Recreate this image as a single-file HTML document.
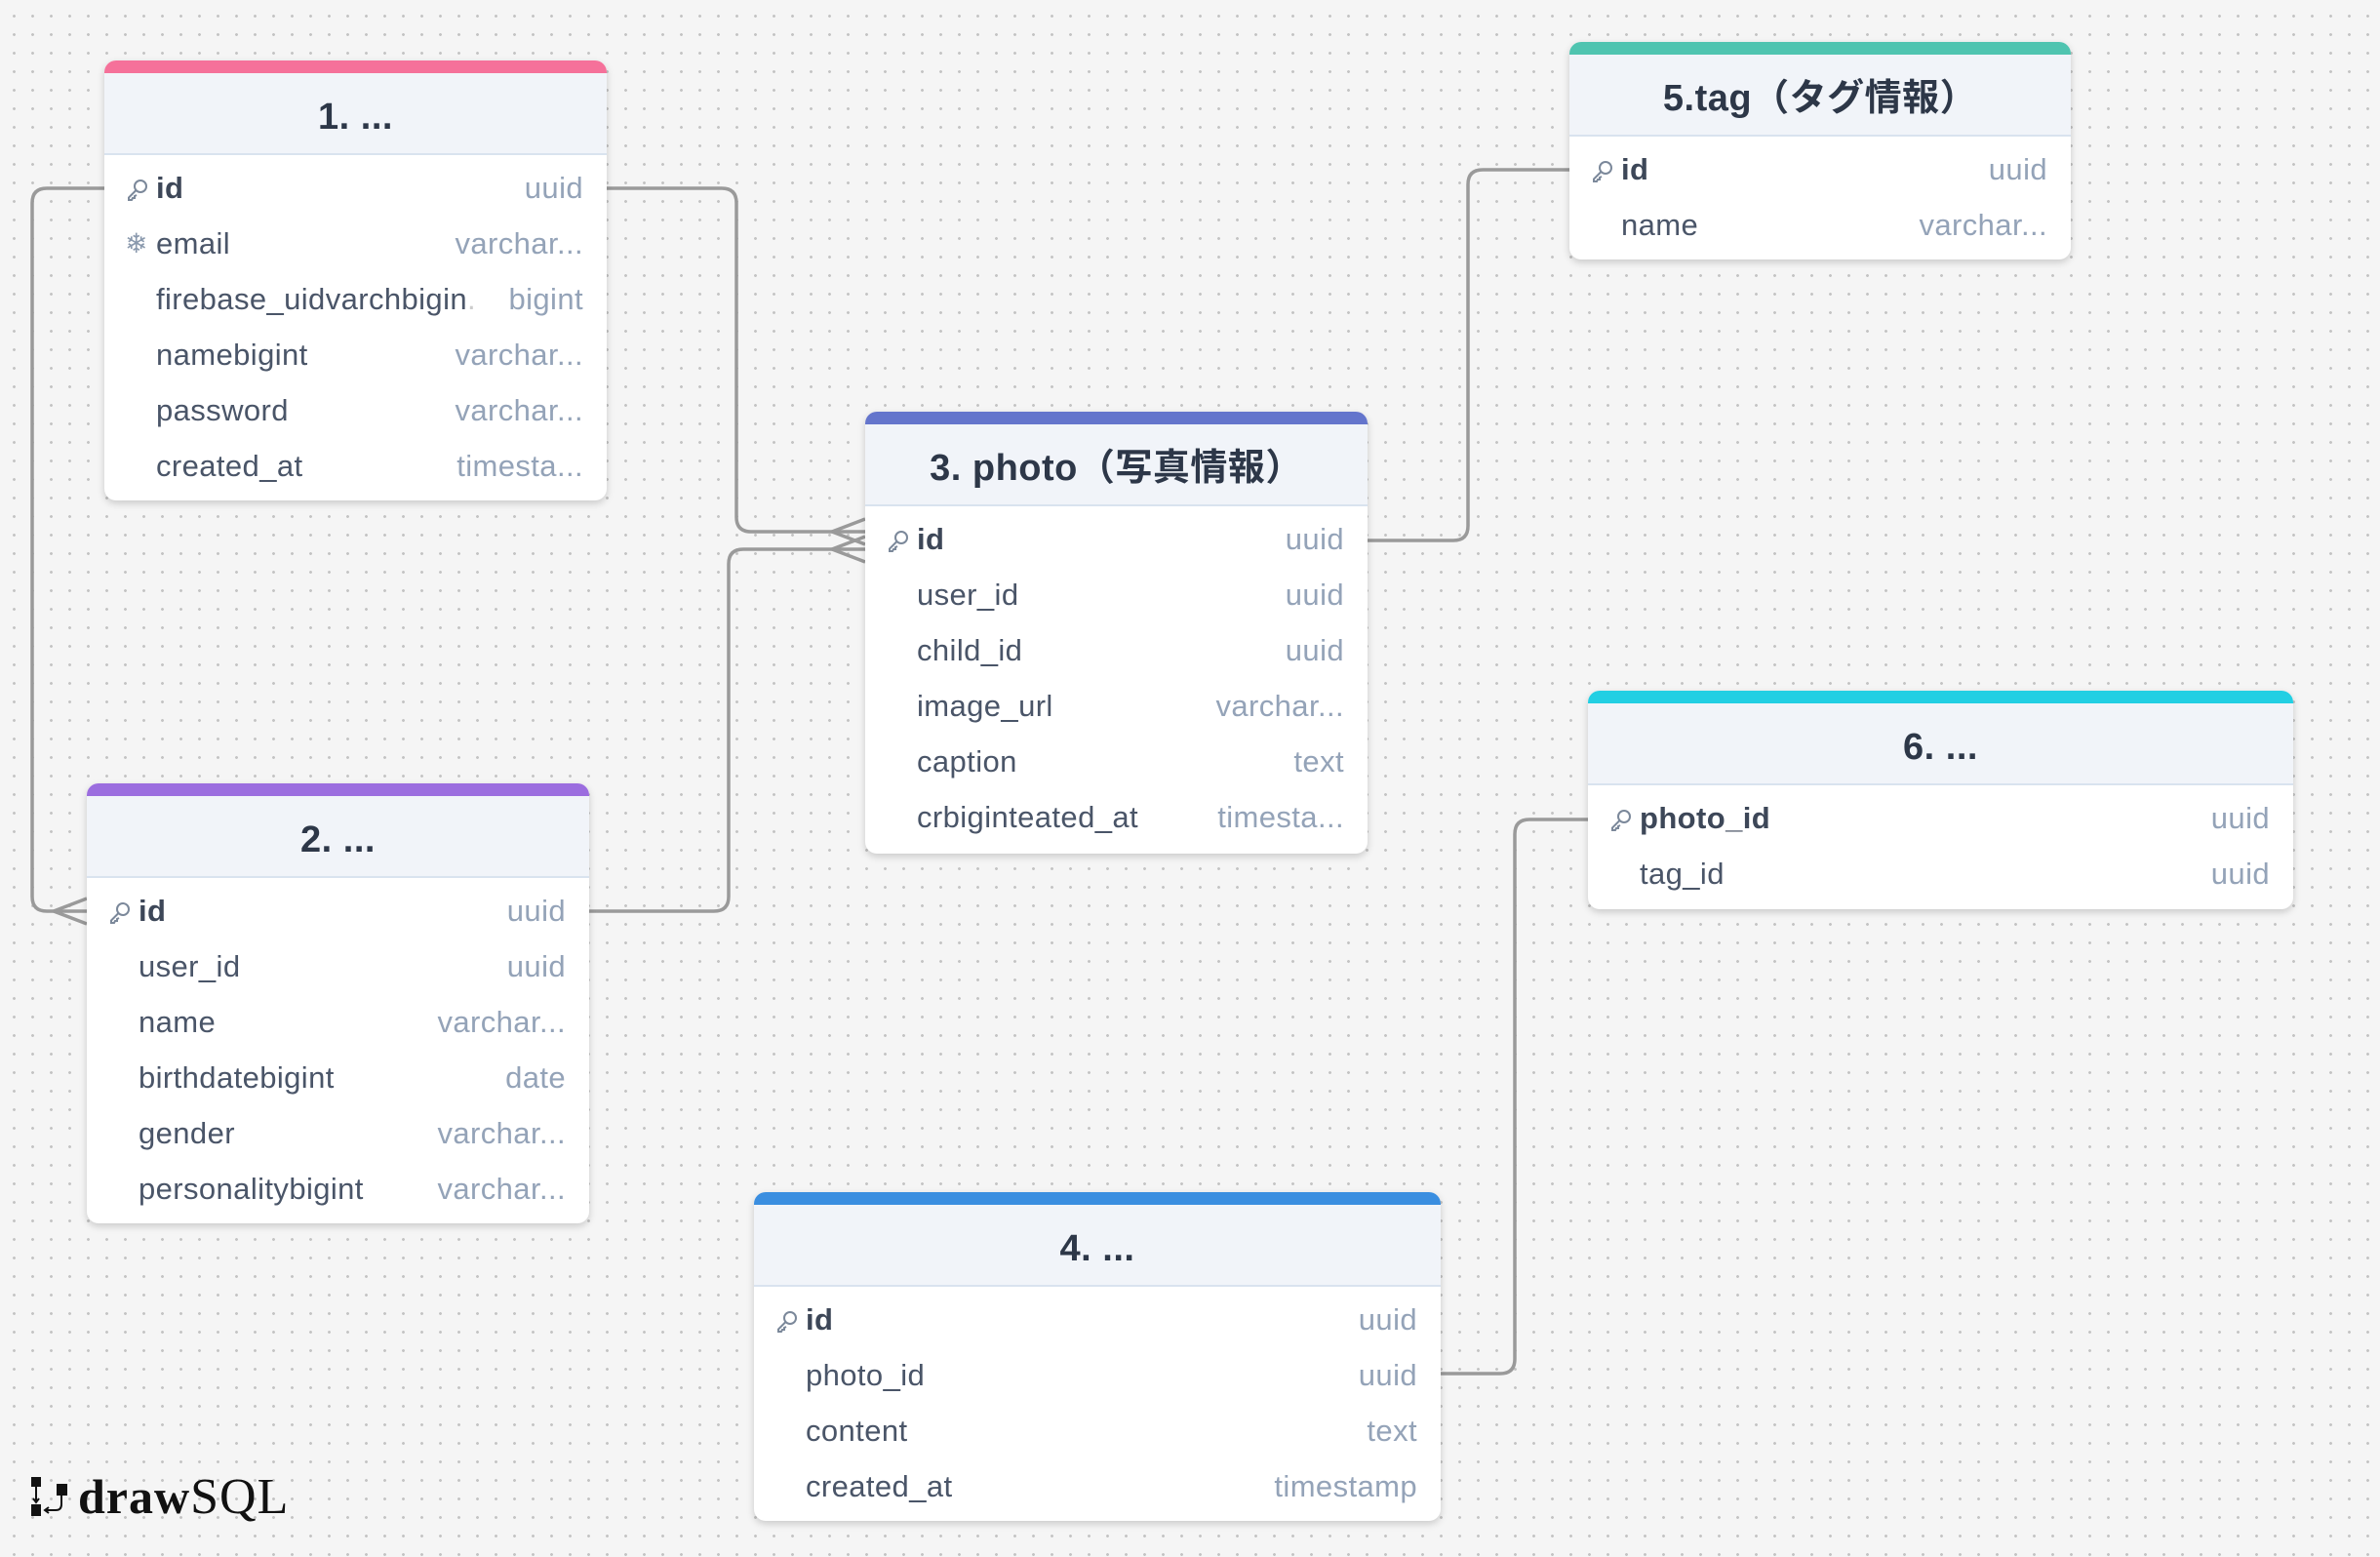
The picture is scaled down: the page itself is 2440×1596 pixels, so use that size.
<!DOCTYPE html>
<html><head><meta charset="utf-8"><style>
*{margin:0;padding:0;box-sizing:border-box}
html,body{width:2440px;height:1596px;overflow:hidden}
body{background-color:#f5f5f5;background-image:radial-gradient(circle,#c4c4c4 1.3px,transparent 1.6px);background-size:19px 19px;background-position:5px 7px;position:relative;font-family:"Liberation Sans","Noto Sans CJK JP",sans-serif}
.t{position:absolute;background:#fff;border-radius:12px;box-shadow:0 3px 8px rgba(0,0,0,.18);overflow:hidden}
.bar{height:13px}
.h{height:84px;background:#f1f4f9;border-bottom:2px solid #d9e3ef;text-align:center;line-height:90px;font-size:38px;font-weight:bold;color:#2d3748;letter-spacing:0.5px}
.b{padding:5px 0 6px}
.r{height:57px;position:relative;font-size:31px;line-height:57px;color:#4a5568;letter-spacing:0.4px}
.r .n{position:absolute;left:53px;white-space:nowrap}
.r .ty{position:absolute;right:24px;color:#94a3b8}
.r .ic{position:absolute;left:22px;top:19px;width:24px;height:24px}
.r .sn{position:absolute;left:21px;color:#8a99ad;font-size:28px}
.k{font-weight:bold;color:#3d4758}
svg.l{position:absolute;left:0;top:0}
</style></head><body>
<svg class="l" width="2440" height="1596" fill="none" stroke="#9a9a9a" stroke-width="3.5">
<path d="M622 193 H740 Q755 193 755 208 V530 Q755 545 770 545 H887"/>
<path d="M853 545 L887 532 M853 545 L887 558"/>
<path d="M604 934 H732 Q747 934 747 919 V578 Q747 563 762 563 H887"/>
<path d="M853 563 L887 550 M853 563 L887 576"/>
<path d="M107 193 H48 Q33 193 33 208 V919 Q33 934 48 934 H89"/>
<path d="M55 934 L89 921 M55 934 L89 947"/>
<path d="M1402 554 H1490 Q1505 554 1505 539 V189 Q1505 174 1520 174 H1609"/>
<path d="M1477 1408 H1538 Q1553 1408 1553 1393 V855 Q1553 840 1568 840 H1628"/>
</svg>
<svg width="0" height="0" style="position:absolute"><defs>
<symbol id="key" viewBox="0 0 24 24"><g fill="none" stroke="#7b889a" stroke-width="2"><circle cx="15" cy="8" r="6"/><path d="M10.5 12 L3 19.5 V22 H6 L7 20 L9 20 L9 18 L11 17"/></g></symbol>
</defs></svg>

<div class="t" style="left:107px;top:62px;width:515px;height:451px">
<div class="bar" style="background:#f5719a"></div><div class="h">1. ...</div>
<div class="b">
<div class="r"><svg class="ic"><use href="#key"/></svg><span class="n k">id</span><span class="ty">uuid</span></div>
<div class="r"><span class="sn">❄</span><span class="n">email</span><span class="ty">varchar...</span></div>
<div class="r"><span class="n">firebase_uidvarchbigin<span style="color:#ccc">.</span></span><span class="ty">bigint</span></div>
<div class="r"><span class="n">namebigint</span><span class="ty">varchar...</span></div>
<div class="r"><span class="n">password</span><span class="ty">varchar...</span></div>
<div class="r"><span class="n">created_at</span><span class="ty">timesta...</span></div>
</div></div>

<div class="t" style="left:89px;top:803px;width:515px;height:451px">
<div class="bar" style="background:#9b6ddf"></div><div class="h">2. ...</div>
<div class="b">
<div class="r"><svg class="ic"><use href="#key"/></svg><span class="n k">id</span><span class="ty">uuid</span></div>
<div class="r"><span class="n">user_id</span><span class="ty">uuid</span></div>
<div class="r"><span class="n">name</span><span class="ty">varchar...</span></div>
<div class="r"><span class="n">birthdatebigint</span><span class="ty">date</span></div>
<div class="r"><span class="n">gender</span><span class="ty">varchar...</span></div>
<div class="r"><span class="n">personalitybigint</span><span class="ty">varchar...</span></div>
</div></div>

<div class="t" style="left:887px;top:422px;width:515px;height:453px">
<div class="bar" style="background:#6475cc"></div><div class="h">3. photo（写真情報）</div>
<div class="b">
<div class="r"><svg class="ic"><use href="#key"/></svg><span class="n k">id</span><span class="ty">uuid</span></div>
<div class="r"><span class="n">user_id</span><span class="ty">uuid</span></div>
<div class="r"><span class="n">child_id</span><span class="ty">uuid</span></div>
<div class="r"><span class="n">image_url</span><span class="ty">varchar...</span></div>
<div class="r"><span class="n">caption</span><span class="ty">text</span></div>
<div class="r"><span class="n">crbiginteated_at</span><span class="ty">timesta...</span></div>
</div></div>

<div class="t" style="left:773px;top:1222px;width:704px;height:337px">
<div class="bar" style="background:#3a8ee0"></div><div class="h">4. ...</div>
<div class="b">
<div class="r"><svg class="ic"><use href="#key"/></svg><span class="n k">id</span><span class="ty">uuid</span></div>
<div class="r"><span class="n">photo_id</span><span class="ty">uuid</span></div>
<div class="r"><span class="n">content</span><span class="ty">text</span></div>
<div class="r"><span class="n">created_at</span><span class="ty">timestamp</span></div>
</div></div>

<div class="t" style="left:1609px;top:43px;width:514px;height:223px">
<div class="bar" style="background:#4fc4b0"></div><div class="h">5.tag（タグ情報）</div>
<div class="b">
<div class="r"><svg class="ic"><use href="#key"/></svg><span class="n k">id</span><span class="ty">uuid</span></div>
<div class="r"><span class="n">name</span><span class="ty">varchar...</span></div>
</div></div>

<div class="t" style="left:1628px;top:708px;width:723px;height:224px">
<div class="bar" style="background:#22cfe3"></div><div class="h">6. ...</div>
<div class="b">
<div class="r"><svg class="ic"><use href="#key"/></svg><span class="n k">photo_id</span><span class="ty">uuid</span></div>
<div class="r"><span class="n">tag_id</span><span class="ty">uuid</span></div>
</div></div>

<svg style="position:absolute;left:30px;top:1512px" width="44" height="46">
<rect x="2" y="2" width="10" height="10" fill="#111"/><rect x="2" y="30" width="10" height="12" fill="#111"/>
<rect x="28" y="9" width="11" height="12" fill="#111"/>
<path d="M7 12 V27 M4 24 L7 28 L10 24 M33 21 V30 Q33 36 27 36 H17 M20 33 L16 36 L20 39" stroke="#111" stroke-width="2" fill="none"/>
</svg>
<div style="position:absolute;left:80px;top:1504px;font-size:47px;line-height:60px;color:#111;white-space:nowrap"><b style="font-family:'Liberation Serif',serif;font-size:50px;letter-spacing:1px">draw</b><span style="font-family:'Liberation Serif',serif;font-weight:normal;font-size:52px;letter-spacing:1px">SQL</span></div>
</body></html>
